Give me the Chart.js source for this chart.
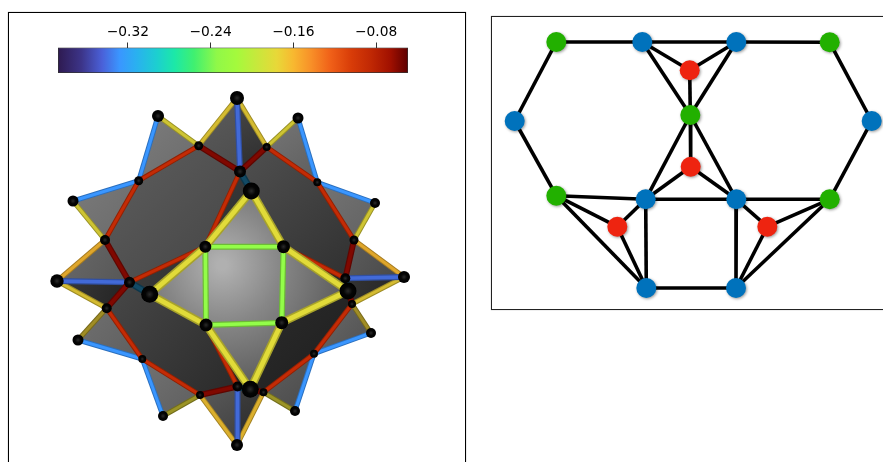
<!DOCTYPE html>
<html>
<head>
<meta charset="utf-8">
<script src="https://cdn.jsdelivr.net/npm/chart.js@4"></script>
<style>
  html, body { margin: 0; background: #fff; overflow: hidden; }
  body { position: relative; width: 883px; height: 462px; }
  .frame { position: absolute; box-sizing: border-box; }
  canvas { position: absolute; left: 0; top: 0; }
  #polyFrame { left: 8px; top: 12px; width: 458px; height: 470px; border: 1px solid #000; box-shadow: 0 0 0.7px #222; }
  #graphFrame { left: 491px; top: 16px; width: 420px; height: 294px; border: 1px solid #222; box-shadow: 0 0 0.7px #444; }
  #barFrame { left: 56px; top: 22px; width: 354px; height: 52px; }
</style>
</head>
<body>
<div class="frame" id="polyFrame"><canvas id="poly" width="456" height="468"></canvas></div>
<div class="frame" id="graphFrame"><canvas id="graph" width="418" height="292"></canvas></div>
<div class="frame" id="barFrame"><canvas id="bar" width="354" height="52"></canvas></div>
<script>
// colour bar
const barMin = -0.3875;
const barMax = -0.0492;
const barTicks = [-0.32, -0.24, -0.16, -0.08];
const stopValues = [-0.3875, -0.365, -0.345, -0.328, -0.312, -0.292, -0.275, -0.256, -0.234, -0.215, -0.195, -0.176, -0.16, -0.143, -0.124, -0.104, -0.085, -0.066, -0.05];
const stopColors = ['#2e1a50', '#3c3488', '#4a60d8', '#3a96ff', '#2ab0f0', '#1ccfd0', '#1ce8a8', '#40f070', '#90f848', '#a4fa3c', '#c8e83c', '#e8d838', '#f8b830', '#f89028', '#f06018', '#d83c08', '#c02804', '#a01000', '#600000'];

// polyhedron vertices: 0-11 spike tips, 12-27 rim, 28-31 square, 32-35 near apexes
const vertexX = [237, 158, 298, 73, 375, 57, 404, 78, 371, 163, 295, 237,
  198.7, 138.7, 105, 129.5, 106.7, 142.3, 200, 237.5, 263.5, 314, 352, 345.3, 354, 317.3, 266.7, 240,
  205.3, 283.5, 281.7, 206,
  251.3, 149.7, 348, 250.3];
const vertexY = [98, 116, 118, 201, 203, 281, 277, 340, 333, 416, 411, 445,
  145.7, 180.7, 240, 282.3, 308.3, 359, 395, 386.5, 392.3, 353.7, 304, 278.3, 240, 182.3, 147, 171.5,
  246.7, 246.7, 322.7, 325,
  191, 294.3, 291, 389.3];

// edges: [from, to, value on the colour bar]
const farEdges = [
  [0, 12, -0.172], [0, 26, -0.172], [1, 12, -0.178], [2, 26, -0.178], [3, 14, -0.178], [4, 24, -0.178],
  [5, 16, -0.172], [6, 22, -0.172], [5, 14, -0.16], [6, 24, -0.16], [11, 18, -0.165], [11, 20, -0.165]
];
const lowFarEdges = [[7, 16, -0.172], [8, 22, -0.172], [9, 18, -0.178], [10, 20, -0.178]];
const blueEdges = [
  [1, 13, -0.328], [2, 25, -0.328], [3, 13, -0.328], [4, 25, -0.328], [7, 17, -0.328],
  [8, 21, -0.328], [9, 17, -0.328], [10, 21, -0.328]
];
const backBlueEdges = [[0, 27, -0.34], [5, 15, -0.34], [6, 23, -0.34], [11, 19, -0.34]];
const rimEdges = [
  [12, 13, -0.088], [13, 14, -0.088], [16, 17, -0.088], [17, 18, -0.088], [20, 21, -0.088], [21, 22, -0.088],
  [24, 25, -0.088], [25, 26, -0.088], [27, 28, -0.088], [15, 28, -0.088], [31, 19, -0.088], [29, 23, -0.088]
];
const darkRimEdges = [
  [14, 15, -0.058], [15, 16, -0.058], [18, 19, -0.058], [19, 20, -0.058], [22, 23, -0.058],
  [23, 24, -0.058], [26, 27, -0.058], [27, 12, -0.058]
];
const stubEdges = [[27, 32, -0.312], [15, 33, -0.312], [23, 34, -0.312], [19, 35, -0.312]];
const squareEdges = [[28, 29, -0.234], [29, 30, -0.234], [30, 31, -0.234], [31, 28, -0.234]];
const nearEdges = [
  [32, 28, -0.18], [32, 29, -0.18], [33, 28, -0.18], [33, 31, -0.18],
  [34, 29, -0.18], [34, 30, -0.18], [35, 30, -0.18], [35, 31, -0.18]
];

// faces: vertex loops, back to front
const spikeFaces = [
  [1, 12, 13], [2, 26, 25], [3, 13, 14], [4, 25, 24], [7, 16, 17], [8, 22, 21], [9, 17, 18], [10, 21, 20],
  [0, 12, 27], [0, 26, 27], [5, 14, 15], [5, 15, 16], [6, 24, 23], [6, 23, 22], [11, 18, 19], [11, 20, 19]
];
const bodyFaces = [
  [12, 13, 14, 15, 28, 27],
  [27, 26, 25, 24, 23, 29, 32],
  [15, 16, 17, 18, 19, 31, 33],
  [35, 20, 21, 22, 34, 30],
  [27, 28, 32], [15, 33, 28], [23, 34, 29], [19, 35, 31], [19, 20, 35], [22, 23, 34]
];
const centerFaces = [[32, 28, 29], [33, 28, 31], [34, 29, 30], [35, 30, 31], [28, 29, 30, 31]];

// right hand graph
const graphGreenX = [556.3, 829.7, 690.3, 556.3, 829.7];
const graphGreenY = [42, 42.3, 115, 195.7, 199.3];
const graphBlueX = [642.3, 736.3, 514.7, 871.7, 645.7, 736.3, 646.3, 736];
const graphBlueY = [42, 42, 121, 121, 199.3, 199.3, 288, 288];
const graphRedX = [689.7, 690.7, 617.3, 767.3];
const graphRedY = [70.3, 166.7, 226.7, 226.7];
// node ids: g0-g4, b0-b7, r0-r3
const graphEdges = [
  ['g0', 'b0'], ['b0', 'b1'], ['b1', 'g1'], ['g0', 'b2'], ['b2', 'g3'], ['g1', 'b3'], ['b3', 'g4'],
  ['r0', 'b0'], ['r0', 'b1'], ['b0', 'g2'], ['b1', 'g2'], ['r0', 'g2'], ['g2', 'r1'], ['g2', 'b4'], ['g2', 'b5'],
  ['r1', 'b4'], ['r1', 'b5'], ['g3', 'b4'], ['b4', 'b5'], ['b5', 'g4'], ['g3', 'r2'], ['r2', 'b4'], ['r2', 'b6'],
  ['g3', 'b6'], ['b4', 'b6'], ['b5', 'b7'], ['b6', 'b7'], ['g4', 'r3'], ['r3', 'b5'], ['r3', 'b7'], ['g4', 'b7']
];

// ---- styles ----
const tipRadii = [7, 6, 5.5, 5.5, 5, 6.7, 6, 5.5, 5, 5, 5, 6];
const rimRadii = [4.5, 4.5, 5, 5.5, 5, 4, 4, 5, 4, 4, 4, 5, 4.5, 4, 4, 6];
const squareRadii = [6, 6.5, 6.5, 6.5];
const apexRadii = [8.5, 8.5, 8.5, 8.5];
const pointRadii = [...tipRadii, ...rimRadii, ...squareRadii, ...apexRadii];

const spikeShades = [
  ['#7c7c7c', '#6a6a6a'], ['#767676', '#5e5e5e'], ['#7a7a7a', '#6a6a6a'], ['#747474', '#626262'],
  ['#707070', '#5e5e5e'], ['#6a6a6a', '#505050'], ['#727272', '#5e5e5e'], ['#606060', '#4a4a4a'],
  ['#5c5c5c', '#4c4c4c'], ['#484848', '#2c2c2c'], ['#6a6a6a', '#565656'], ['#3a3a3a', '#222222'],
  ['#5c5c5c', '#484848'], ['#343434', '#242424'], ['#5a5a5a', '#404040'], ['#3e3e3e', '#2a2a2a']
];
const bodyShades = [
  ['#5e5e5e', '#444444'], ['#505050', '#303030'], ['#484848', '#2a2a2a'], ['#2c2c2c', '#1e1e1e'],
  ['#3a3a3a', '#2e2e2e'], ['#3c3c3c', '#303030'], ['#343434', '#262626'], ['#2c2c2c', '#222222'],
  ['#2c2c2c', '#222222'], ['#2a2a2a', '#202020']
];

function hexRgb(hex) {
  return [1, 3, 5].map(i => parseInt(hex.slice(i, i + 2), 16));
}

function colorAt(value) {
  let i = 0;
  while (i < stopValues.length - 2 && value > stopValues[i + 1]) i++;
  const t = Math.min(1, Math.max(0, (value - stopValues[i]) / (stopValues[i + 1] - stopValues[i])));
  const a = hexRgb(stopColors[i]);
  const b = hexRgb(stopColors[i + 1]);
  return a.map((c, k) => c + (b[k] - c) * t);
}

function rgb(c, k) {
  return `rgb(${c.map(v => Math.min(255, Math.round(v * k))).join(',')})`;
}

function pointOf(i) {
  return { x: vertexX[i], y: vertexY[i] };
}

function tube(edge, width, light) {
  const color = colorAt(edge[2]);
  const data = [pointOf(edge[0]), pointOf(edge[1])];
  const base = { data, showLine: true, pointRadius: 0, fill: false, borderCapStyle: 'butt' };
  return [
    { ...base, borderColor: rgb(color, light * 0.74), borderWidth: width },
    { ...base, borderColor: rgb(color, light), borderWidth: width * 0.6 }
  ];
}

// the scales have no pixels yet on the first option pass
function scalesReady(chart) {
  return chart.chartArea && Number.isFinite(chart.scales.x.getPixelForValue(vertexX[0]));
}

function linearFace(loop, shade) {
  return {
    data: loop.map(pointOf),
    showLine: true,
    pointRadius: 0,
    borderWidth: 0,
    fill: 'shape',
    backgroundColor(ctx) {
      if (!scalesReady(ctx.chart)) return shade[0];
      const { x, y } = ctx.chart.scales;
      const xs = loop.map(i => x.getPixelForValue(vertexX[i]));
      const ys = loop.map(i => y.getPixelForValue(vertexY[i]));
      const g = ctx.chart.ctx.createLinearGradient(Math.min(...xs), Math.min(...ys), Math.max(...xs), Math.max(...ys));
      g.addColorStop(0, shade[0]);
      g.addColorStop(1, shade[1]);
      return g;
    }
  };
}

function glowFace(loop) {
  return {
    data: loop.map(pointOf),
    showLine: true,
    pointRadius: 0,
    borderWidth: 0,
    fill: 'shape',
    backgroundColor(ctx) {
      if (!scalesReady(ctx.chart)) return '#8c8c8c';
      const { x, y } = ctx.chart.scales;
      const cx = x.getPixelForValue(222);
      const cy = y.getPixelForValue(265);
      const g = ctx.chart.ctx.createRadialGradient(cx, cy, 5, cx, cy, 125);
      g.addColorStop(0, '#b0b0b0');
      g.addColorStop(0.45, '#868686');
      g.addColorStop(1, '#5c5c5c');
      return g;
    }
  };
}

// painter's order: first in this list ends up underneath
const layers = [];
spikeFaces.forEach((f, i) => layers.push(linearFace(f, spikeShades[i])));
bodyFaces.forEach((f, i) => layers.push(linearFace(f, bodyShades[i])));
centerFaces.forEach(f => layers.push(glowFace(f)));
farEdges.forEach(e => layers.push(...tube(e, 5, 0.9)));
lowFarEdges.forEach(e => layers.push(...tube(e, 5, 0.68)));
blueEdges.forEach(e => layers.push(...tube(e, 5, 1)));
backBlueEdges.forEach(e => layers.push(...tube(e, 6, 0.95)));
rimEdges.forEach(e => layers.push(...tube(e, 5, 1)));
darkRimEdges.forEach(e => layers.push(...tube(e, 6, 1)));
squareEdges.forEach(e => layers.push(...tube(e, 6, 1.02)));
stubEdges.forEach(e => layers.push(...tube(e, 7, 0.42)));
nearEdges.forEach(e => layers.push(...tube(e, 8, 1)));
layers.push({
  data: vertexX.map((_, i) => pointOf(i)),
  showLine: false,
  pointRadius: pointRadii,
  pointBorderWidth: 0,
  pointBackgroundColor(ctx) {
    const el = ctx.raw;
    if (!el || !scalesReady(ctx.chart)) return '#000';
    const { x, y } = ctx.chart.scales;
    const px = x.getPixelForValue(el.x);
    const py = y.getPixelForValue(el.y);
    const g = ctx.chart.ctx.createRadialGradient(px, py, 0, px, py, pointRadii[ctx.dataIndex]);
    g.addColorStop(0, '#2a2a2a');
    g.addColorStop(0.5, '#050505');
    g.addColorStop(1, '#000');
    return g;
  }
});

const hiddenAxes = (xMin, xMax, yMin, yMax) => ({
  x: { type: 'linear', display: false, min: xMin, max: xMax },
  y: { type: 'linear', display: false, min: yMin, max: yMax, reverse: true }
});

const baseOptions = {
  responsive: false,
  animation: false,
  events: [],
  layout: { padding: 0, autoPadding: false },
  plugins: { legend: { display: false }, tooltip: { enabled: false } }
};

new Chart(document.getElementById('poly'), {
  type: 'scatter',
  data: { datasets: layers.slice().reverse() },
  options: { ...baseOptions, scales: hiddenAxes(9, 465, 13, 481) }
});

// ---- graph ----
const graphNodes = {};
graphGreenX.forEach((x, i) => { graphNodes['g' + i] = { x, y: graphGreenY[i] }; });
graphBlueX.forEach((x, i) => { graphNodes['b' + i] = { x, y: graphBlueY[i] }; });
graphRedX.forEach((x, i) => { graphNodes['r' + i] = { x, y: graphRedY[i] }; });

const nodeShadow = {
  id: 'nodeShadow',
  beforeDatasetDraw(chart, args) {
    if (!chart.data.datasets[args.index].nodeSet) return;
    const c = chart.ctx;
    c.save();
    c.shadowColor = 'rgba(0,0,0,0.4)';
    c.shadowBlur = 3;
    c.shadowOffsetX = 1;
    c.shadowOffsetY = 1;
  },
  afterDatasetDraw(chart, args) {
    if (chart.data.datasets[args.index].nodeSet) chart.ctx.restore();
  }
};

const nodeSet = (xs, ys, color) => ({
  nodeSet: true,
  data: xs.map((x, i) => ({ x, y: ys[i] })),
  showLine: false,
  pointRadius: 10,
  pointBorderWidth: 0,
  pointBackgroundColor: color
});

new Chart(document.getElementById('graph'), {
  type: 'scatter',
  data: {
    datasets: [
      nodeSet(graphGreenX, graphGreenY, '#22b000'),
      nodeSet(graphBlueX, graphBlueY, '#0072bc'),
      nodeSet(graphRedX, graphRedY, '#ee2410'),
      ...graphEdges.map(([a, b]) => ({
        data: [graphNodes[a], graphNodes[b]],
        showLine: true,
        pointRadius: 0,
        borderColor: '#000',
        borderWidth: 3.6
      }))
    ]
  },
  options: { ...baseOptions, scales: hiddenAxes(492, 910, 17, 309) },
  plugins: [nodeShadow]
});

// ---- colour bar ----
new Chart(document.getElementById('bar'), {
  type: 'bar',
  data: {
    labels: ['value'],
    datasets: [{
      data: [[barMin, barMax]],
      barPercentage: 1,
      categoryPercentage: 1,
      borderWidth: 1,
      borderColor: '#333',
      borderSkipped: false,
      backgroundColor(ctx) {
        const x = ctx.chart.scales.x;
        if (!ctx.chart.chartArea || !Number.isFinite(x.left + x.right)) return '#888';
        const g = ctx.chart.ctx.createLinearGradient(x.left, 0, x.right, 0);
        stopValues.forEach((v, i) => {
          const t = Math.min(1, Math.max(0, (v - barMin) / (barMax - barMin)));
          g.addColorStop(t, stopColors[i]);
        });
        return g;
      }
    }]
  },
  options: {
    ...baseOptions,
    indexAxis: 'y',
    layout: { padding: { left: 2, right: 2, bottom: 1 } },
    scales: {
      x: {
        type: 'linear',
        position: 'top',
        min: barMin,
        max: barMax,
        afterBuildTicks(scale) { scale.ticks = barTicks.map(value => ({ value })); },
        border: { display: false },
        grid: { drawOnChartArea: false, drawTicks: true, tickLength: 5, tickColor: '#333', tickWidth: 1 },
        ticks: {
          color: '#000',
          padding: 2,
          maxRotation: 0,
          font: { family: 'DejaVu Sans', size: 13.8 },
          callback: v => '\u2212' + Math.abs(v).toFixed(2)
        }
      },
      y: { display: false }
    }
  }
});
</script>
</body>
</html>
